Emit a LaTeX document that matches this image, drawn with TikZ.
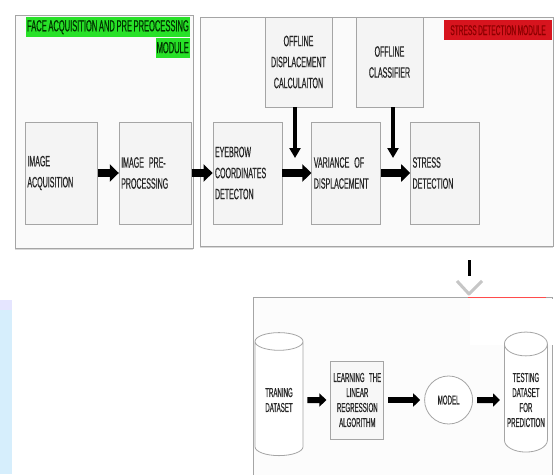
\documentclass[tikz,border=0pt]{standalone}
\usepackage{fontspec}
\setmainfont{Liberation Sans}[FakeStretch=0.47, WordSpace=0.8, FakeBold=0.4]
\usepackage{tikz}
\usetikzlibrary{positioning, arrows.meta, shapes.geometric, shadows}
\definecolor{tagGreen}{RGB}{40,225,40}
\definecolor{tagRed}{RGB}{215,20,30}
\definecolor{edgeGray}{RGB}{165,165,165}
\definecolor{stripBlue}{RGB}{214,238,252}

\begin{document}
\begin{tikzpicture}[
    x=1pt, y=-1pt,
    node distance=21pt,
    module/.style={draw=edgeGray, fill=gray!4, line width=0.8pt, anchor=north west,
      drop shadow={shadow xshift=0pt, shadow yshift=-1.5pt, opacity=0.3}},
    box/.style={draw=edgeGray, fill=gray!9, line width=0.8pt, minimum height=102pt,
      inner sep=2pt, text width=#1, align=left, text=black!85,
      font=\fontsize{15}{21}\selectfont},
    box/.default=68pt,
    obox/.style={box=63pt, align=center, minimum height=90pt},
    lbox/.style={draw=edgeGray, fill=gray!6, line width=0.8pt, minimum height=78pt,
      inner sep=0pt, text width=53pt, align=center, text=black!85,
      font=\fontsize{13}{15}\selectfont},
    drum/.style={cylinder, shape border rotate=90, aspect=0.6, draw=edgeGray,
      fill=white, line width=0.8pt, align=center, inner sep=1pt, text=black!85,
      font=\fontsize{13}{15}\selectfont},
    greentag/.style={fill=tagGreen, inner sep=1pt, minimum height=20pt,
      text=green!20!black, font=\fontsize{16}{19}\selectfont},
    redtag/.style={fill=tagRed, inner xsep=6pt, inner ysep=2pt, minimum height=20pt,
      text=red!55!black, font=\fontsize{14}{16}\selectfont},
    arr/.style={-{Triangle[length=9pt, width=17pt]}, line width=8pt},
    darr/.style={-{Triangle[length=10pt, width=11pt]}, line width=4.5pt},
    barr/.style={-{Triangle[length=7pt, width=13pt]}, line width=6pt,
      shorten <=4pt, shorten >=4pt}
  ]
    \clip (0,0) rectangle (556,474);
    \fill[white] (0,0) rectangle (556,474);
    \fill[stripBlue] (0,300) rectangle (12,474);
    \fill[blue!10] (0,300) rectangle (12,310);

    \node[module, minimum width=178pt, minimum height=233pt] (facemod) at (15,15) {};
    \node[module, minimum width=353pt, minimum height=229pt] (stressmod) at (200,17) {};
    \node[greentag, anchor=north east] (facetag) at (190,17)
      {FACE ACQUISITION AND PRE PREOCESSING};
    \node[greentag, anchor=north east] (facetagb) at (facetag.south east) {MODULE};
    \node[redtag, anchor=north east] (stresstag) at (552,20) {STRESS DETECTION MODULE};

    \node[box, anchor=west] (acq) at (25,173) {IMAGE\\ACQUISITION};
    \node[box, right=of acq] (prep) {IMAGE PRE-\\PROCESSING};
    \node[box=65pt, right=of prep] (brow) {EYEBROW\\COORDINATES\\DETECTON};
    \node[box=65pt, right=29pt of brow] (var) {VARIANCE OF\\DISPLACEMENT};
    \node[box=65pt, right=29pt of var] (stress) {STRESS\\DETECTION};
    \node[obox] (offdisp) at (298.5,62) {OFFLINE\\DISPLACEMENT\\CALCULAITON};
    \node[obox] (offcls) at (389.5,62) {OFFLINE\\CLASSIFIER};

    \draw[arr] (acq) -- (prep);
    \draw[arr] (prep) -- (brow);
    \draw[arr] (brow) -- (var);
    \draw[arr] (var) -- (stress);
    \coordinate (varin) at (295,158);
    \coordinate (stressin) at (393,158);
    \draw[darr] (offdisp.south -| varin) -- (varin);
    \draw[darr] (offcls.south -| stressin) -- (stressin);

    \coordinate (dropa) at (469,260);
    \coordinate (dropb) at (469,276);
    \draw[line width=3pt] (dropa) -- (dropb);
    \draw[gray!45, line width=3pt, line join=round]
      ([shift={(-12,5)}]dropb) -- ([shift={(0,18)}]dropb) -- ([shift={(13,5)}]dropb);

    \node[draw=edgeGray, fill=gray!2, line width=0.8pt, anchor=north west,
      minimum width=299pt, minimum height=200pt] (trainmod) at (253,297) {};
    \fill[white] (470,299) rectangle (556,345);
    \draw[red!70, line width=1pt] (468,297) -- (546,297);

    \node[drum, minimum width=48pt, minimum height=123pt] (train) at (279,400)
      {TRANING\\DATASET};
    \node[lbox, right=27pt of train] (learn)
      {LEARNING THE\\LINEAR\\REGRESSION\\ALGORITHM};
    \node[circle, draw=edgeGray, fill=white, line width=0.8pt, minimum size=48pt,
      inner sep=0pt, text=black!85, font=\fontsize{13}{15}\selectfont,
      right=40pt of learn] (model) {MODEL};
    \node[drum, minimum width=43pt, minimum height=120pt, right=31pt of model] (test)
      {TESTING\\DATASET\\FOR\\PREDICTION};
    \draw[barr] (train) -- (learn);
    \draw[barr] (learn) -- (model);
    \draw[barr] (model) -- (test);
  \end{tikzpicture}
\end{document}
